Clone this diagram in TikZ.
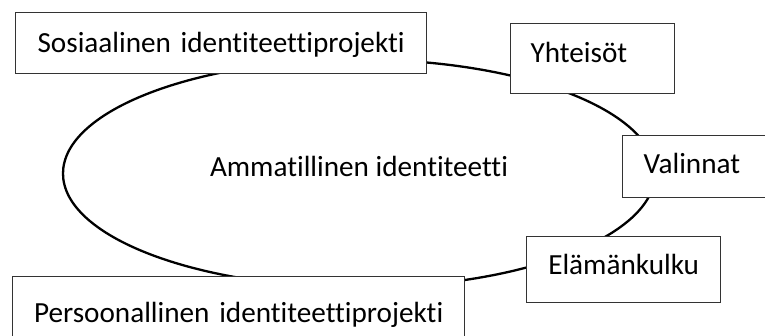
\documentclass[tikz,border=0pt]{standalone}
\usepackage{fontspec}
\setmainfont{Carlito}[Ligatures={NoCommon}]
\usetikzlibrary{shapes.geometric}

\begin{document}
\begin{tikzpicture}[
    x=1pt, y=-1pt,
    every node/.style={font=\fontsize{29.2}{34}\selectfont},
    boxnode/.style={rectangle, draw=black!80, line width=1.3pt, fill=white, anchor=north west, inner ysep=0pt},
    ringnode/.style={ellipse, draw=black, line width=2.3pt, inner sep=0pt, minimum width=592pt, minimum height=228pt},
    ]
    \clip (0,0) rectangle (765,335);
    %Nodes
    \node[ringnode, text height=20pt, text depth=15pt] (ammatillinen) at (359,173.5) {Ammatillinen identiteetti};
    \node[boxnode, inner xsep=0pt, text width=411pt, align=center, text height=40pt, text depth=21pt] (sosiaalinen) at (15,12) {Sosiaalinen identiteettiprojekti};
    \node[boxnode, inner xsep=20pt, text width=124pt, align=left, text height=39pt, text depth=31pt] (yhteisot) at (510,23) {Yhteisöt};
    \node[boxnode, inner xsep=21pt, text width=111pt, align=left, text height=38pt, text depth=24pt] (valinnat) at (622,135) {Valinnat};
    \node[boxnode, inner xsep=0pt, text width=194pt, align=center, text height=38pt, text depth=28pt] (elamankulku) at (526,236) {Elämänkulku};
    \node[boxnode, inner xsep=0pt, text width=452pt, align=center, text height=46pt, text depth=28pt] (persoonallinen) at (12,276) {Persoonallinen identiteettiprojekti};
\end{tikzpicture}
\end{document}
